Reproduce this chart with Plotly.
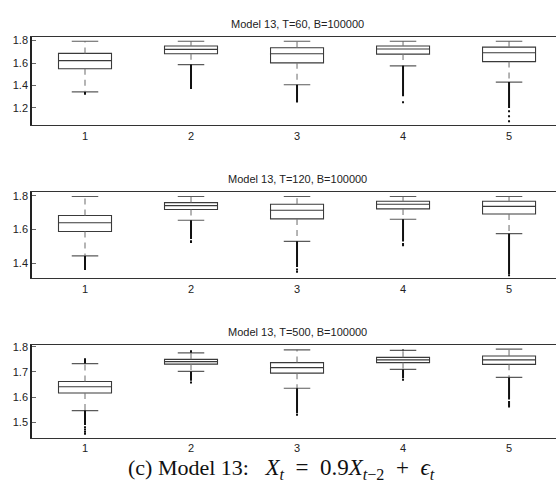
import plotly.graph_objects as go

# ---------------- data ----------------
positions = [1, 2, 3, 4, 5]
tick_labels = ["1", "2", "3", "4", "5"]
titles = ["Model 13, T=60, B=100000", "Model 13, T=120, B=100000", "Model 13, T=500, B=100000"]

# T = 60
q1_60 = [1.549, 1.683, 1.602, 1.680, 1.613]
med_60 = [1.622, 1.722, 1.683, 1.725, 1.692]
q3_60 = [1.686, 1.752, 1.737, 1.752, 1.742]
lo_60 = [1.343, 1.587, 1.407, 1.575, 1.431]
hi_60 = [1.794, 1.794, 1.794, 1.794, 1.794]
out_lo_60 = [1.317, 1.380, 1.270, 1.305, 1.200]
out_hi_60 = [None, None, None, None, None]
sparse_60 = [[], [1.377], [1.262, 1.257], [1.251], [1.171, 1.127, 1.083]]

# T = 120
q1_120 = [1.589, 1.718, 1.663, 1.722, 1.692]
med_120 = [1.640, 1.741, 1.714, 1.749, 1.737]
q3_120 = [1.683, 1.759, 1.749, 1.767, 1.767]
lo_120 = [1.445, 1.655, 1.531, 1.661, 1.576]
hi_120 = [1.795, 1.795, 1.795, 1.795, 1.795]
out_lo_120 = [1.372, 1.545, 1.380, 1.530, 1.338]
out_hi_120 = [None, None, None, None, None]
sparse_120 = [[1.367], [1.532, 1.527], [1.365, 1.351], [1.515, 1.508], [1.331]]

# T = 500
q1_500 = [1.616, 1.731, 1.695, 1.737, 1.730]
med_500 = [1.641, 1.741, 1.717, 1.748, 1.748]
q3_500 = [1.662, 1.750, 1.737, 1.758, 1.763]
lo_500 = [1.546, 1.702, 1.635, 1.710, 1.678]
hi_500 = [1.733, 1.776, 1.788, 1.786, 1.791]
out_lo_500 = [1.489, 1.665, 1.535, 1.675, 1.590]
out_hi_500 = [1.754, 1.786, None, 1.789, None]
sparse_500 = [[1.480, 1.471, 1.462, 1.454], [1.658], [1.530], [1.669], [1.580, 1.574, 1.568, 1.562]]

yranges = [[1.045, 1.830], [1.312, 1.823], [1.438, 1.809]]
ytickvals = [[1.2, 1.4, 1.6, 1.8], [1.4, 1.6, 1.8], [1.5, 1.6, 1.7, 1.8]]
yticktext = [["1.2", "1.4", "1.6", "1.8"], ["1.4", "1.6", "1.8"], ["1.5", "1.6", "1.7", "1.8"]]

NB = "\u00a0"
caption = ("(c) Model 13:" + NB * 3 + "<span style='font-size:23px'>"
           + "<i>X</i><sub><i>t</i></sub>" + NB * 2 + "=" + NB * 2
           + "0.9<i>X</i><sub><i>t</i>\u22122</sub>" + NB * 2 + "+" + NB * 2
           + "<i>\u03f5</i><sub><i>t</i></sub></span>")

panels = [
    (q1_60, med_60, q3_60, lo_60, hi_60, out_lo_60, out_hi_60, sparse_60),
    (q1_120, med_120, q3_120, lo_120, hi_120, out_lo_120, out_hi_120, sparse_120),
    (q1_500, med_500, q3_500, lo_500, hi_500, out_lo_500, out_hi_500, sparse_500),
]

# ---------------- style ----------------
W, H = 556, 492
L = 32
frames_px = [(33.5, 122.4), (189.3, 276.7), (343.3, 437.3)]  # top, bottom in pixels
box_w = 0.5
cap_half = 0.125
FONT = "Liberation Sans, Arial, sans-serif"

fig = go.Figure()
layout = dict(
    width=W, height=H,
    margin=dict(l=L, r=0, t=0, b=0),
    paper_bgcolor="white", plot_bgcolor="white",
    showlegend=False,
    font=dict(family=FONT, size=11, color="#222"),
    annotations=[],
)

for k, (q1, med, q3, lo, hi, olo, ohi, sparse) in enumerate(panels):
    sfx = "" if k == 0 else str(k + 1)
    xa, ya = "x" + sfx, "y" + sfx

    # boxes (box + median)
    fig.add_trace(go.Box(
        x=positions, q1=q1, median=med, q3=q3, lowerfence=q1, upperfence=q3,
        width=box_w, whiskerwidth=0, fillcolor="white",
        line=dict(color="#3a3a3a", width=1.1), boxpoints=False,
        xaxis=xa, yaxis=ya, hoverinfo="skip"))

    # dashed whiskers
    wx, wy = [], []
    for i, p in enumerate(positions):
        wx += [p, p, None, p, p, None]
        wy += [q3[i], hi[i], None, q1[i], lo[i], None]
    fig.add_trace(go.Scatter(x=wx, y=wy, mode="lines",
                             line=dict(color="#777", width=1.1, dash="6px,5px"),
                             xaxis=xa, yaxis=ya, hoverinfo="skip"))

    # caps
    cx, cy = [], []
    for i, p in enumerate(positions):
        cx += [p - cap_half, p + cap_half, None, p - cap_half, p + cap_half, None]
        cy += [hi[i], hi[i], None, lo[i], lo[i], None]
    fig.add_trace(go.Scatter(x=cx, y=cy, mode="lines",
                             line=dict(color="#5a5a5a", width=1.2),
                             xaxis=xa, yaxis=ya, hoverinfo="skip"))

    # dense outliers
    ox, oy = [], []
    for i, p in enumerate(positions):
        ox += [p, p, None]
        oy += [lo[i], olo[i], None]
        if ohi[i] is not None:
            ox += [p, p, None]
            oy += [hi[i], ohi[i], None]
    fig.add_trace(go.Scatter(x=ox, y=oy, mode="lines",
                             line=dict(color="#111", width=2),
                             xaxis=xa, yaxis=ya, hoverinfo="skip"))

    # sparse outliers
    sx, sy = [], []
    for i, p in enumerate(positions):
        for v in sparse[i]:
            sx.append(p)
            sy.append(v)
    fig.add_trace(go.Scatter(x=sx, y=sy, mode="markers",
                             marker=dict(symbol="square", size=2, color="#111"),
                             xaxis=xa, yaxis=ya, hoverinfo="skip"))

    top, bot = frames_px[k]
    dom = [1 - bot / H, 1 - top / H]
    layout["xaxis" + sfx] = dict(
        domain=[0, 1], range=[0.5, 5.443], anchor=ya,
        showline=True, mirror=True, linecolor="#333", linewidth=1.3,
        tickvals=positions, ticktext=tick_labels, ticks="",
        showgrid=False, zeroline=False, fixedrange=True,
        tickfont=dict(family=FONT, size=11, color="#222"))
    layout["yaxis" + sfx] = dict(
        domain=dom, range=yranges[k], anchor=xa,
        showline=True, mirror=False, linecolor="#222", linewidth=1.6,
        tickvals=ytickvals[k], ticktext=yticktext[k],
        ticks="inside", ticklen=4, tickcolor="#666", tickwidth=1,
        showgrid=False, zeroline=False, fixedrange=True,
        tickfont=dict(family=FONT, size=11, color="#222"))
    layout["annotations"].append(dict(
        text=titles[k], xref=xa, x=3, yref="paper", y=1 - (top - 13) / H,
        yanchor="middle", xanchor="center", showarrow=False,
        font=dict(family=FONT, size=11, color="#222")))

layout["annotations"].append(dict(
    text=caption, xref="paper", x=(281 - L) / (W - L), yref="paper", y=1 - 469 / H,
    xanchor="center", yanchor="middle", showarrow=False,
    font=dict(family="Liberation Serif, DejaVu Serif, serif", size=22, color="#111")))

fig.update_layout(**layout)
fig.write_html("out.html", config={"displayModeBar": False},
               post_script="document.body.style.margin='0';document.body.style.padding='0';")
